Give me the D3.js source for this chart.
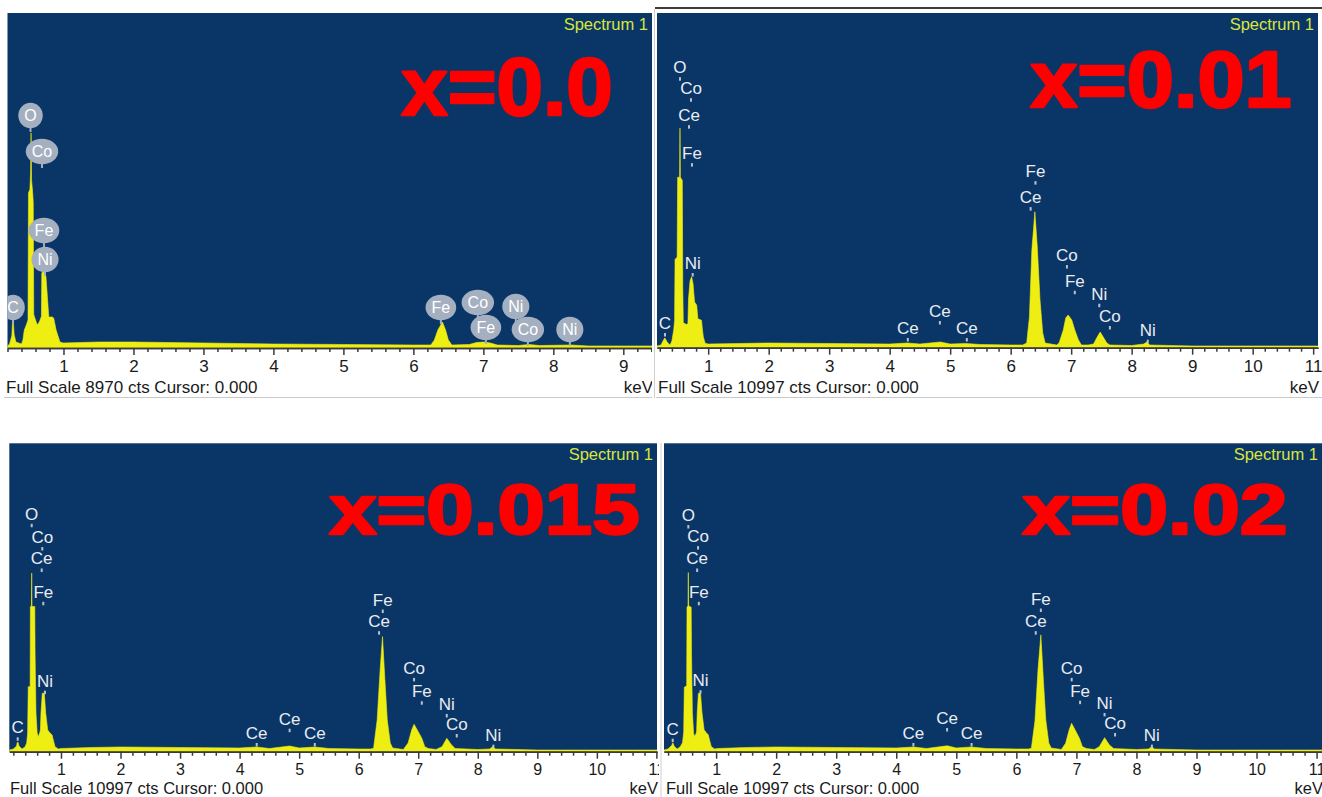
<!DOCTYPE html>
<html><head><meta charset="utf-8">
<script src="https://cdn.jsdelivr.net/npm/d3@7"></script>
<style>
body{margin:0;background:#fff;}
svg{display:block;font-family:"Liberation Sans",Arial,sans-serif;}
</style>
</head><body>
<svg id="chart" width="1322" height="797"></svg>
<script>
// ---------------- DATA ----------------
const panelTitles = ["x=0.0", "x=0.01", "x=0.015", "x=0.02"];
const fullScales = [8970, 10997, 10997, 10997];
const cursorValue = "0.000";
const spectrumName = "Spectrum 1";
const majorTicks = [1, 2, 3, 4, 5, 6, 7, 8, 9, 10, 11];

// spectra: [energy keV, counts]
const spectrumX000 = [
  [0.2,54],[0.23,110],[0.262,330],[0.273,750],[0.283,740],[0.295,360],[0.32,160],[0.40,107],[0.42,214],
  [0.44,480],[0.47,620],[0.493,750],[0.5,4150],[0.52,4250],[0.53,4700],[0.537,5760],[0.544,4500],
  [0.56,4150],[0.568,3900],[0.575,900],[0.6,750],[0.627,616],[0.656,700],[0.685,850],[0.69,2000],
  [0.70,2035],[0.735,2035],[0.75,1900],[0.77,1370],[0.79,830],[0.84,830],[0.86,800],[0.895,480],
  [0.95,160],[1.0,134],[1.5,160],[2.0,160],[3.0,134],[4.0,107],[5.0,94],[6.0,80],[6.25,80],
  [6.3,214],[6.35,482],[6.415,696],[6.46,482],[6.5,214],[6.55,80],[6.8,94],[6.9,147],[7.0,160],
  [7.1,134],[7.2,80],[7.5,67],[7.65,94],[7.8,67],[8.26,80],[8.5,54],[9.41,54]
];
const spectrumX010 = [
  [0.154,56],[0.22,89],[0.253,220],[0.28,318],[0.292,300],[0.32,187],[0.37,89],[0.40,220],[0.43,580],
  [0.445,900],[0.452,2900],[0.487,2980],[0.495,5600],[0.528,5600],[0.534,7213],[0.54,5600],
  [0.572,5500],[0.58,2000],[0.589,820],[0.645,760],[0.665,800],[0.675,1600],[0.70,2200],
  [0.727,2331],[0.75,2100],[0.775,1500],[0.81,1400],[0.83,950],[0.89,900],[0.905,600],[0.92,350],
  [0.95,150],[1.0,121],[1.5,138],[2.0,154],[3.0,138],[4.0,121],[4.29,154],[4.5,121],[4.84,187],
  [5.0,121],[5.26,138],[5.5,105],[6.0,89],[6.2,89],[6.265,154],[6.31,1008],[6.35,3207],
  [6.40,4465],[6.44,3306],[6.485,1566],[6.53,483],[6.57,154],[6.76,89],[6.80,154],[6.87,581],
  [6.91,975],[6.95,1074],[7.01,909],[7.06,581],[7.12,253],[7.17,89],[7.28,89],[7.37,121],
  [7.43,351],[7.48,515],[7.53,351],[7.59,154],[7.64,89],[8.0,72],[8.2,121],[8.25,187],[8.3,89],
  [9.0,56],[11.1,56]
];
const spectrumX015 = [
  [0.132,61],[0.2,96],[0.255,200],[0.265,330],[0.28,330],[0.295,200],[0.345,96],[0.395,168],
  [0.424,310],[0.44,670],[0.45,2320],[0.482,2320],[0.486,5177],[0.503,5177],[0.508,6369],
  [0.513,5177],[0.56,5177],[0.565,3500],[0.58,1400],[0.6,668],[0.62,536],[0.647,700],[0.655,800],
  [0.664,1382],[0.686,2085],[0.72,2085],[0.743,1382],[0.777,775],[0.815,668],[0.85,600],
  [0.871,418],[0.9,179],[0.955,96],[1.0,114],[1.5,150],[2.0,168],[3.0,150],[4.0,132],[4.29,168],
  [4.5,114],[4.84,203],[5.0,132],[5.26,168],[5.5,114],[6.0,96],[6.2,96],[6.25,121],[6.31,1132],
  [6.36,2917],[6.40,4106],[6.44,2560],[6.48,1132],[6.53,311],[6.57,132],[6.75,79],[6.83,311],
  [6.89,775],[6.93,978],[7.0,714],[7.06,478],[7.11,179],[7.17,114],[7.3,79],[7.40,179],[7.48,478],
  [7.56,239],[7.62,114],[8.0,79],[8.2,96],[8.25,179],[8.3,96],[9.0,61],[11.1,61]
];
const spectrumX020 = [
  [0.132,61],[0.2,100],[0.262,230],[0.272,300],[0.285,300],[0.30,200],[0.35,96],[0.40,170],
  [0.44,320],[0.46,700],[0.47,2300],[0.51,2350],[0.515,5150],[0.532,5200],[0.537,6390],
  [0.542,5200],[0.585,5150],[0.59,3500],[0.605,1400],[0.625,650],[0.645,540],[0.675,700],
  [0.685,1380],[0.705,2085],[0.74,2085],[0.765,1380],[0.80,780],[0.84,670],[0.87,600],[0.89,420],
  [0.92,180],[0.975,96],[1.02,114],[1.5,150],[2.0,168],[3.0,150],[4.0,132],[4.29,168],[4.5,114],
  [4.85,210],[5.0,132],[5.25,168],[5.5,114],[6.0,96],[6.2,96],[6.25,121],[6.31,1100],[6.36,2900],
  [6.408,4166],[6.45,2550],[6.49,1130],[6.54,310],[6.58,130],[6.75,80],[6.82,300],[6.88,780],
  [6.92,1014],[6.99,730],[7.05,480],[7.10,180],[7.17,110],[7.3,80],[7.38,180],[7.47,500],
  [7.55,240],[7.62,110],[8.0,80],[8.2,96],[8.257,179],[8.3,96],[9.0,61],[11.1,61]
];

// element line labels: element, energy (keV), anchor height (counts)
const labelsX000 = [
  {el:"C",keV:0.279,cts:643},{el:"O",keV:0.529,cts:5784},{el:"Co",keV:0.693,cts:4820},
  {el:"Fe",keV:0.721,cts:2705},{el:"Ni",keV:0.736,cts:1928},{el:"Fe",keV:6.393,cts:643},
  {el:"Co",keV:6.921,cts:777},{el:"Fe",keV:7.036,cts:107},{el:"Ni",keV:7.464,cts:670},
  {el:"Co",keV:7.636,cts:54},{el:"Ni",keV:8.236,cts:54}
];
const labelsX010 = [
  {el:"C",keV:0.286,cts:417},{el:"O",keV:0.534,cts:8821},{el:"Co",keV:0.716,cts:8132},
  {el:"Ce",keV:0.683,cts:7246},{el:"Fe",keV:0.732,cts:5998},{el:"Ni",keV:0.744,cts:2387},
  {el:"Ce",keV:4.30,cts:253},{el:"Ce",keV:4.83,cts:811},{el:"Ce",keV:5.275,cts:253},
  {el:"Ce",keV:6.33,cts:4554},{el:"Fe",keV:6.41,cts:5407},{el:"Co",keV:6.93,cts:2649},
  {el:"Fe",keV:7.06,cts:1806},{el:"Ni",keV:7.465,cts:1379},{el:"Co",keV:7.64,cts:647},
  {el:"Ni",keV:8.266,cts:197}
];
const labelsX015 = [
  {el:"C",keV:0.273,cts:443},{el:"O",keV:0.508,cts:8057},{el:"Co",keV:0.686,cts:7226},
  {el:"Ce",keV:0.676,cts:6462},{el:"Fe",keV:0.703,cts:5273},{el:"Ni",keV:0.731,cts:2106},
  {el:"Ce",keV:4.287,cts:239},{el:"Ce",keV:4.84,cts:750},{el:"Ce",keV:5.263,cts:239},
  {el:"Ce",keV:6.342,cts:4227},{el:"Fe",keV:6.404,cts:4998},{el:"Co",keV:6.93,cts:2560},
  {el:"Fe",keV:7.06,cts:1728},{el:"Ni",keV:7.479,cts:1274},{el:"Co",keV:7.647,cts:560},
  {el:"Ni",keV:8.262,cts:179}
];
const labelsX020 = [
  {el:"C",keV:0.277,cts:393},{el:"O",keV:0.537,cts:8011},{el:"Co",keV:0.699,cts:7261},
  {el:"Ce",keV:0.684,cts:6462},{el:"Fe",keV:0.712,cts:5273},{el:"Ni",keV:0.74,cts:2121},
  {el:"Ce",keV:4.285,cts:239},{el:"Ce",keV:4.846,cts:775},{el:"Ce",keV:5.254,cts:239},
  {el:"Ce",keV:6.323,cts:4227},{el:"Fe",keV:6.408,cts:5034},{el:"Co",keV:6.921,cts:2560},
  {el:"Fe",keV:7.061,cts:1749},{el:"Ni",keV:7.469,cts:1310},{el:"Co",keV:7.644,cts:596},
  {el:"Ni",keV:8.257,cts:179}
];

const spectra = [spectrumX000, spectrumX010, spectrumX015, spectrumX020];
const labelSets = [labelsX000, labelsX010, labelsX015, labelsX020];

// ---------------- LAYOUT ----------------
const layout = [
  {left:7.5, right:652, top:13, axis:348, kMin:0.2, kMax:9.41, clipR:652,
   tickBase:372, tickSize:17, footBase:393, footSize:17, footX:6,
   title:{x:400, base:114.8, w:214, size:82}, balloons:true},
  {left:657, right:1318, top:13, axis:347.7, kMin:0.154, kMax:11.08, clipR:1322,
   tickBase:372, tickSize:17, footBase:393, footSize:17, footX:658,
   title:{x:1029, base:106.8, w:264, size:79}, balloons:false},
  {left:9.3, right:657, top:443.3, axis:751.7, kMin:0.132, kMax:11.01, clipR:659,
   tickBase:775.5, tickSize:16, footBase:794, footSize:16.5, footX:10,
   title:{x:328, base:533.8, w:313, size:70.5}, balloons:false},
  {left:664, right:1322, top:443.3, axis:751.7, kMin:0.132, kMax:11.09, clipR:1322,
   tickBase:775.5, tickSize:16, footBase:794, footSize:16.5, footX:666,
   title:{x:1021, base:533.8, w:268, size:70.5}, balloons:false}
];

const C = {
  blue:"#0a3567", yellow:"#eeee12", spec:"#d9e53c", label:"#e9ecf1", marker:"#b9c1cd",
  balloon:"#a4afc0", axis:"#3a3a3a", text:"#1a1a1a", red:"#ff0000"
};

const svg = d3.select("#chart");
svg.append("rect").attr("width",1322).attr("height",797).attr("fill","#fff");

// separators
svg.append("line").attr("x1",655).attr("x2",1322).attr("y1",8).attr("y2",8)
  .attr("stroke","#3c3c3c").attr("stroke-width",2);
svg.append("line").attr("x1",4).attr("x2",652).attr("y1",397.5).attr("y2",397.5).attr("stroke","#c9c9c9");
svg.append("line").attr("x1",656).attr("x2",1322).attr("y1",397.5).attr("y2",397.5).attr("stroke","#c9c9c9");
svg.append("line").attr("x1",654.5).attr("x2",654.5).attr("y1",9).attr("y2",398).attr("stroke","#d0d0d0");
svg.append("line").attr("x1",661).attr("x2",661).attr("y1",443).attr("y2",797).attr("stroke","#d0d0d0");

const defs = svg.append("defs");

layout.forEach((L, i) => {
  const g = svg.append("g");
  const x = d3.scaleLinear().domain([L.kMin, L.kMax]).range([L.left, L.right]);
  const y = d3.scaleLinear().domain([0, fullScales[i]]).range([L.axis, L.top]);

  defs.append("clipPath").attr("id","plot"+i).append("rect")
    .attr("x",L.left).attr("y",L.top).attr("width",L.right-L.left).attr("height",L.axis-L.top);
  defs.append("clipPath").attr("id","band"+i).append("rect")
    .attr("x",L.left-6).attr("y",L.top-5).attr("width",L.clipR-L.left+6).attr("height",L.footBase-L.top+8);

  g.append("rect").attr("x",L.left).attr("y",L.top).attr("width",L.right-L.left)
    .attr("height",L.axis-L.top).attr("fill",C.blue);

  const area = d3.area().x(d=>x(d[0])).y0(y(0)).y1(d=>y(d[1])).curve(d3.curveLinear);
  g.append("path").datum(spectra[i]).attr("d",area).attr("fill",C.yellow)
    .attr("stroke",C.yellow).attr("stroke-width",0.6).attr("clip-path","url(#plot"+i+")");

  // axis
  const ax = g.append("g").attr("clip-path","url(#band"+i+")");
  const minors = d3.range(1, Math.floor(L.kMax*5)+1).map(k=>+(k*0.2).toFixed(1))
    .filter(v=>v>=L.kMin && v<=L.kMax && Math.abs(v-Math.round(v))>1e-6);
  const majors = majorTicks.filter(v=>v>=L.kMin && v<=L.kMax+0.05);
  const minorAxis = ax.append("g").attr("transform",`translate(0,${L.axis})`)
    .call(d3.axisBottom(x).tickValues(minors).tickSize(4).tickSizeOuter(0).tickFormat(""));
  const majorAxis = ax.append("g").attr("transform",`translate(0,${L.axis})`)
    .call(d3.axisBottom(x).tickValues(majors).tickSize(7).tickSizeOuter(0).tickFormat(d3.format("d")));
  [minorAxis, majorAxis].forEach(a=>{
    a.select(".domain").attr("stroke",C.axis).attr("stroke-width",1.5);
    a.selectAll(".tick line").attr("stroke",C.axis).attr("stroke-width",1.5);
  });
  majorAxis.selectAll(".tick text").attr("y", L.tickBase - L.axis).attr("dy",0)
    .attr("font-size",L.tickSize).attr("fill",C.text).attr("font-family",'"Liberation Sans",Arial,sans-serif');

  ax.append("text").attr("x",L.footX).attr("y",L.footBase).attr("font-size",L.footSize)
    .attr("fill",C.text).text(`Full Scale ${fullScales[i]} cts Cursor: ${cursorValue}`);
  ax.append("text").attr("x",L.right+1).attr("y",L.footBase).attr("font-size",L.footSize)
    .attr("text-anchor","end").attr("fill",C.text).text("keV");

  // spectrum name
  g.append("text").attr("x",L.right-4).attr("y",L.top+17).attr("text-anchor","end")
    .attr("font-size",16.5).attr("fill",C.spec).text(spectrumName);

  // title
  g.append("text").attr("x",L.title.x+1.2).attr("y",L.title.base)
    .attr("font-size",L.title.size).attr("font-weight","bold").attr("fill",C.red)
    .attr("stroke",C.red).attr("stroke-width",2.5).attr("stroke-linejoin","round")
    .attr("textLength",L.title.w-2.5).attr("lengthAdjust","spacingAndGlyphs")
    .text(panelTitles[i]);

  // element labels
  const lg = g.append("g").attr("clip-path","url(#plot"+i+")");
  labelSets[i].forEach(d=>{
    const lx = x(d.keV), ly = y(d.cts);
    if (L.balloons) {
      const cy = ly - 16.5;
      lg.append("line").attr("x1",lx).attr("x2",lx).attr("y1",ly).attr("y2",cy+10)
        .attr("stroke",C.balloon).attr("stroke-width",2);
      const ell = lg.append("ellipse").attr("cx",lx).attr("cy",cy).attr("ry",12.8)
        .attr("fill",C.balloon);
      const t = lg.append("text").attr("x",lx).attr("y",cy+5.8).attr("text-anchor","middle")
        .attr("font-size",16).attr("fill","#ffffff").text(d.el);
      const w = t.node().getComputedTextLength();
      ell.attr("rx", w/2 + 6);
    } else {
      lg.append("rect").attr("x",lx-1).attr("y",ly-2).attr("width",2).attr("height",3.5)
        .attr("fill",C.marker);
      lg.append("text").attr("x",lx).attr("y",ly-6).attr("text-anchor","middle")
        .attr("font-size",17).attr("fill",C.label).text(d.el);
    }
  });
});
</script>
</body></html>
